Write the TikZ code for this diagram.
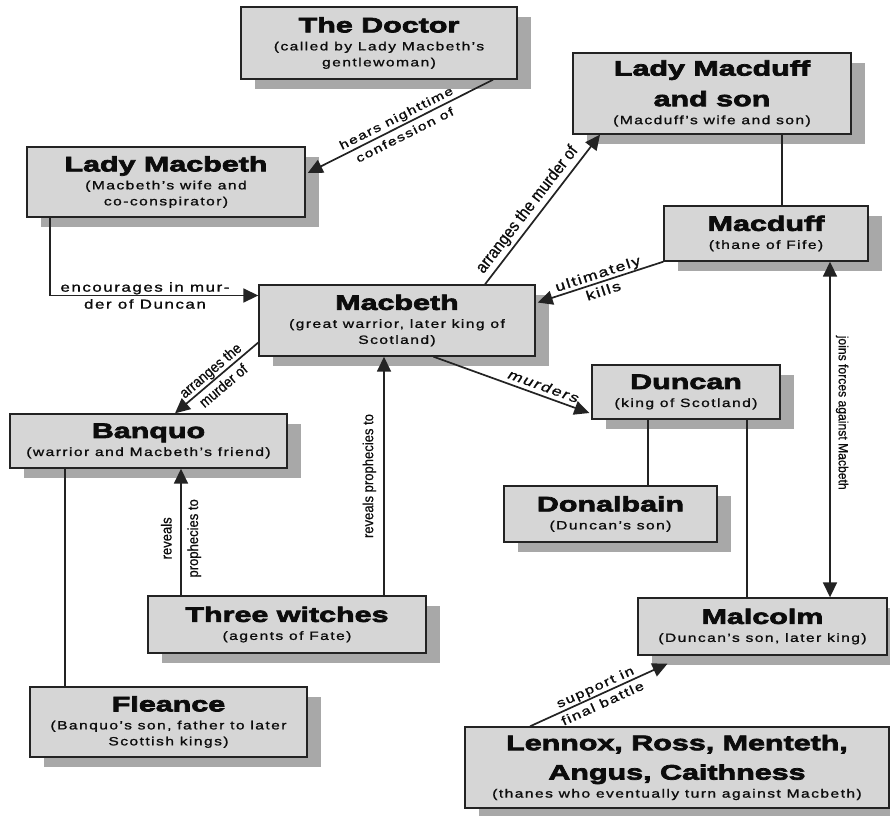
\documentclass[tikz,border=0pt]{standalone}
\usepackage{fontspec}
\setmainfont{Liberation Sans}
\newfontfamily\hdfont{Liberation Sans Bold}[FakeStretch=1.45,FakeBold=3.5]
\newfontfamily\sbfont{Liberation Sans}[FakeStretch=1.3,LetterSpace=12,FakeBold=1.2]
\newfontfamily\lbfont{Liberation Sans}[FakeStretch=0.9,FakeBold=0.6]
\newfontfamily\slfont{Liberation Sans}[FakeStretch=1.3,LetterSpace=12,FakeSlant=0.25,FakeBold=0.8]
\newcommand\HdF{\hdfont\fontsize{21}{16}\selectfont}
\newcommand\SbF{\sbfont\fontsize{12}{16}\selectfont}
\newcommand\TrF[1]{\sbfont\fontsize{#1}{16}\selectfont}
\newcommand\LbF[1]{\lbfont\fontsize{#1}{#1}\selectfont}
\newcommand\SlF{\slfont\fontsize{13.5}{16}\selectfont}
\usetikzlibrary{calc,arrows.meta,shadows}
\definecolor{boxc}{RGB}{214,214,214}
\definecolor{shadc}{RGB}{168,168,168}
\definecolor{edgec}{RGB}{35,35,35}
\definecolor{txtc}{RGB}{12,12,12}
\begin{document}
\begin{tikzpicture}[x=1pt,y=-1pt,
  box/.style={draw=edgec, line width=1.4pt, fill=boxc, inner sep=0pt, align=center, text=txtc, font=\SbF,
    drop shadow={shadow xshift=14pt, shadow yshift=-10pt, fill=shadc, opacity=1}},
  conn/.style={draw=edgec, line width=1.7pt},
  arr/.style={conn, -{Triangle[length=15pt,width=14pt]}},
  arrb/.style={conn, {Triangle[length=15pt,width=14pt]}-{Triangle[length=15pt,width=14pt]}},
  lbl/.style={inner sep=1pt, align=center, text=txtc}]
\fill[white] (0,0) rectangle (890,815);
\useasboundingbox (0,0) rectangle (890,815);

% boxes
\node[box, minimum width=276pt, minimum height=72pt] (doc) at (379,43)
  {\HdF The Doctor\\[2pt](called by Lady Macbeth’s\\gentlewoman)};
\node[box, minimum width=278pt, minimum height=70pt] (lmb) at (166,182)
  {\HdF Lady Macbeth\\[2pt](Macbeth’s wife and\\co-conspirator)};
\node[box, minimum width=278pt, minimum height=81pt] (lmd) at (712,93.5)
  {\HdF Lady Macduff\\[10pt]\HdF and son\\[2pt](Macduff’s wife and son)};
\node[box, minimum width=204pt, minimum height=55pt] (mcd) at (766,233.5)
  {\HdF Macduff\\[2pt](thane of Fife)};
\node[box, minimum width=276pt, minimum height=71pt] (mac) at (397,320.5)
  {\HdF Macbeth\\[2pt](great warrior, later king of\\Scotland)};
\node[box, minimum width=277pt, minimum height=54pt] (ban) at (148.5,441)
  {\HdF Banquo\\[2pt](warrior and Macbeth’s friend)};
\node[box, minimum width=188pt, minimum height=54pt] (dun) at (686,392)
  {\HdF Duncan\\[2pt](king of Scotland)};
\node[box, minimum width=213pt, minimum height=56pt] (don) at (610.5,514)
  {\HdF Donalbain\\[2pt](Duncan’s son)};
\node[box, minimum width=278pt, minimum height=57pt] (wit) at (287,624.5)
  {\HdF Three witches\\[2pt](agents of Fate)};
\node[box, minimum width=249pt, minimum height=57pt] (mal) at (762.5,626.5)
  {\HdF Malcolm\\[2pt](Duncan’s son, later king)};
\node[box, minimum width=277pt, minimum height=70pt] (fle) at (168.5,722)
  {\HdF Fleance\\[2pt](Banquo’s son, father to later\\Scottish kings)};
\node[box, minimum width=424pt, minimum height=81pt] (len) at (677,767.5)
  {\HdF Lennox, Ross, Menteth,\\[10pt]\HdF Angus, Caithness\\[2pt](thanes who eventually turn against Macbeth)};

% connectors
\draw[arr] ($(doc.south)+(114,0)$) -- ($(lmb.east)+(2,-9)$)
  node[lbl, midway, sloped, font=\TrF{12}] {hears nighttime\\[3pt]confession of};
\draw[arr] ($(lmb.south)+(-116,0)$) |- ($(mac.west)+(0,-25)$)
  node[lbl, pos=0.728, font=\TrF{13}] {encourages in mur-\\[1pt]der of Duncan};
\draw[arr] ($(mac.north)+(88,0)$) -- ($(lmd.south)+(-112,0)$)
  node[lbl, pos=0.45, sloped, above=2pt, font=\LbF{17}] {arranges the murder of};
\draw[arr] (mcd.south west) -- ($(mac.east)+(2,-18)$)
  node[lbl, midway, sloped, font=\TrF{13.5}] {ultimately\\[2pt]kills};
\coordinate (lmdmcd) at ($(lmd.south)+(70,0)$);
\draw[conn] (lmdmcd) -- (lmdmcd |- mcd.north);
\draw[arr] ($(mac.west)+(0,22)$) -- ($(ban.north)+(26.5,0)$)
  node[lbl, midway, sloped, font=\LbF{15}] {arranges the\\[5pt]murder of};
\coordinate (witban) at ($(wit.north)+(-106,0)$);
\draw[arr] (witban) -- (witban |- ban.south)
  node[lbl, pos=0.45, rotate=90, font=\LbF{14.5}] {reveals\\[12pt]prophecies to};
\coordinate (witmac) at ($(wit.north)+(97,0)$);
\draw[arr] (witmac) -- (witmac |- mac.south)
  node[lbl, pos=0.5, rotate=90, anchor=south, inner sep=7pt, font=\LbF{14.5}] {reveals prophecies to};
\draw[arr] ($(mac.south)+(36.5,0)$) -- ($(dun.west)+(-2,21)$)
  node[lbl, pos=0.68, sloped, above=3pt, font=\SlF] {murders};
\coordinate (dundon) at ($(dun.south)+(-38,0)$);
\draw[conn] (dundon) -- (dundon |- don.north);
\coordinate (dunmal) at ($(dun.south)+(61,0)$);
\draw[conn] (dunmal) -- (dunmal |- mal.north);
\coordinate (mcdmal) at ($(mcd.south)+(64,0)$);
\draw[arrb] (mcdmal) -- (mcdmal |- mal.north)
  node[lbl, pos=0.45, rotate=-90, anchor=south, inner sep=5pt, font=\LbF{13.5}] {joins forces against Macbeth};
\coordinate (banfle) at ($(ban.south)+(-83.5,0)$);
\draw[conn] (banfle) -- (banfle |- fle.north);
\draw[arr] ($(len.north)+(-147,0)$) -- ($(mal.south)+(-95,8)$)
  node[lbl, midway, sloped, font=\TrF{12.5}] {support in\\[2pt]final battle};
\end{tikzpicture}
\end{document}
